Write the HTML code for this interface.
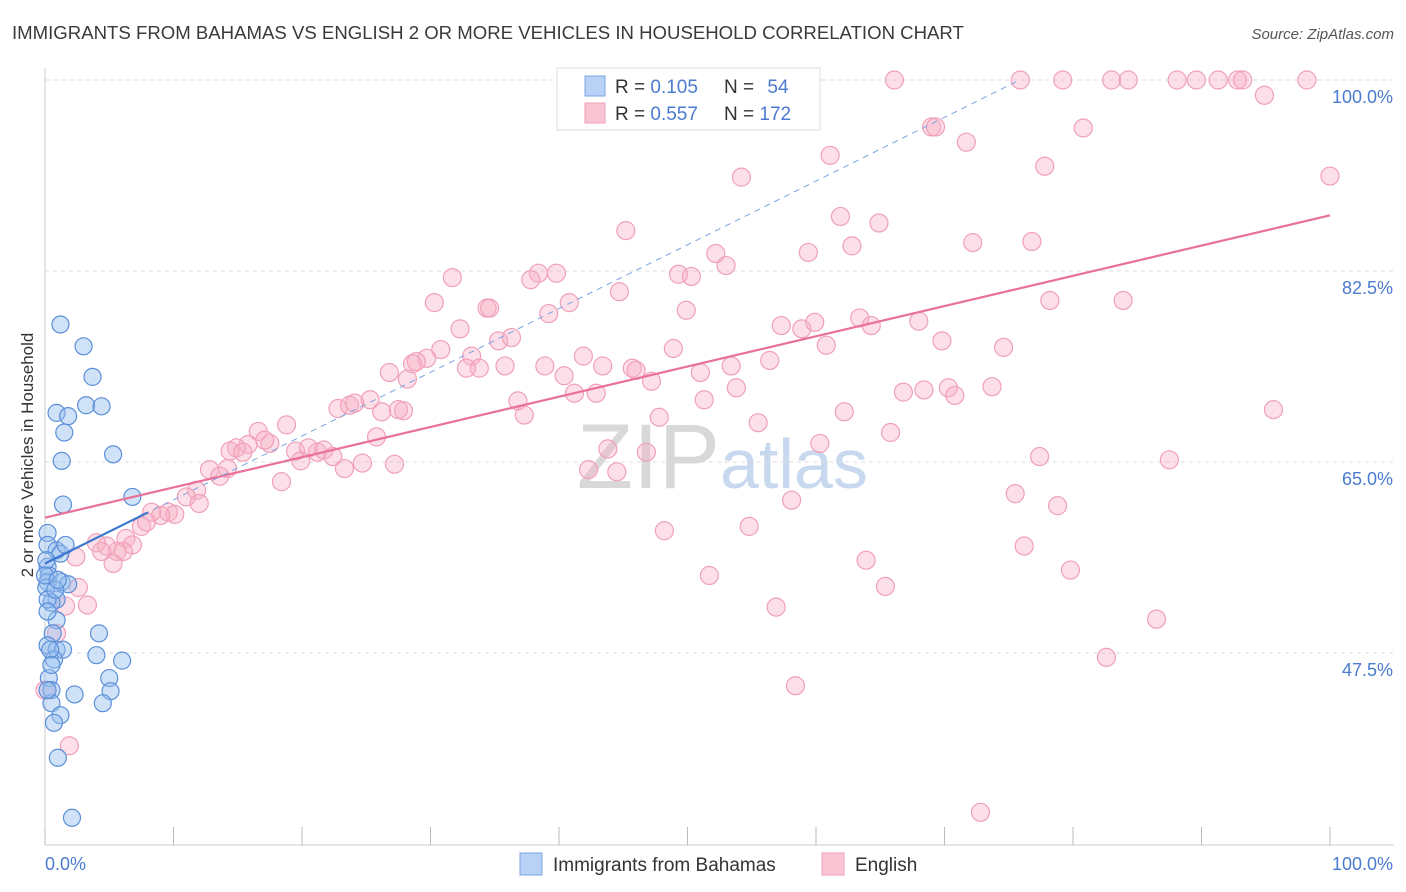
<!DOCTYPE html>
<html><head><meta charset="utf-8">
<style>
body{margin:0;background:#fff;font-family:"Liberation Sans",sans-serif;}
#wrap{position:relative;width:1406px;height:892px;overflow:hidden;}
svg text{font-family:"Liberation Sans",sans-serif;}
</style></head>
<body>
<div id="wrap">
<svg id="chart" width="1406" height="892">
<text x="12" y="39" font-size="18.6" fill="#3a3a3a">IMMIGRANTS FROM BAHAMAS VS ENGLISH 2 OR MORE VEHICLES IN HOUSEHOLD CORRELATION CHART</text>
<text x="1394" y="39" font-size="15" fill="#555" font-style="italic" text-anchor="end">Source: ZipAtlas.com</text>
<text x="720" y="488" font-size="92" fill="#d8d8d8" text-anchor="end" font-family="Liberation Serif">ZIP</text>
<text x="720" y="488" font-size="70" fill="#c8d8ee">atlas</text>
<text transform="translate(33,455) rotate(-90)" font-size="17" fill="#333" text-anchor="middle">2 or more Vehicles in Household</text>
<g id="grid"></g><g id="marks"></g><g id="lines"></g>
<g>
<rect x="557" y="68" width="263" height="62" fill="#fff" stroke="#ddd"/>
<rect x="585" y="76" width="20" height="20" fill="#b8d2f6" stroke="#7aa4e0"/>
<rect x="585" y="103" width="20" height="20" fill="#f9c4d4" stroke="#f0a0b8"/>
<text x="615" y="93" font-size="19" fill="#333">R = <tspan fill="#4a7bd0">0.105</tspan></text>
<text x="724" y="93" font-size="19" fill="#333">N = <tspan fill="#4a7bd0" dx="8">54</tspan></text>
<text x="615" y="120" font-size="19" fill="#333">R = <tspan fill="#4a7bd0">0.557</tspan></text>
<text x="724" y="120" font-size="19" fill="#333">N = <tspan fill="#4a7bd0">172</tspan></text>
</g>
<rect x="520" y="853" width="22" height="22" fill="#b8d2f6" stroke="#7aa4e0"/>
<text x="553" y="871" font-size="19" fill="#333">Immigrants from Bahamas</text>
<rect x="822" y="853" width="22" height="22" fill="#f9c4d4" stroke="#f0a0b8"/>
<text x="855" y="871" font-size="19" fill="#333">English</text>
</svg>
</div>
<script>
const yTicks=[100,82.5,65,47.5];
const yTickLabels=["100.0%","82.5%","65.0%","47.5%"];
const xTicks=[0,10,20,30,40,50,60,70,80,90,100];
const xTickLabels=["0.0%","100.0%"];
const pinkX=[66.1,75.9,79.2,83.0,84.3,88.1,89.6,91.3,92.8,93.2,98.2,94.9,69.0,69.3,80.8,71.7,61.1,77.8,54.2,100,61.9,64.9,45.2,62.8,72.2,76.8,59.4,52.2,53.0,31.7,38.4,39.8,37.8,49.3,50.3,44.7,30.3,34.4,34.6,40.8,39.2,49.9,78.2,83.9,32.3,57.3,58.9,59.9,63.4,64.3,68.0,35.3,36.3,30.8,33.2,29.7,28.6,28.9,26.8,28.2,33.8,32.8,38.9,41.9,43.4,45.7,46.0,40.4,47.2,48.9,51.0,53.4,56.4,60.8,69.8,74.6,53.8,41.2,42.9,35.8,51.3,66.8,68.4,70.3,70.8,73.7,26.2,27.9,27.5,22.8,23.7,25.3,24.1,36.8,37.3,18.8,25.8,16.6,15.8,17.5,17.1,14.9,14.4,15.4,19.5,19.9,21.2,20.5,21.7,22.4,23.3,24.7,27.2,18.4,14.2,12.8,13.6,11.8,11.0,12.0,9.6,10.1,9.0,8.3,7.5,7.9,6.3,6.8,5.6,4.8,6.1,5.3,4.0,4.4,2.4,2.6,3.3,0.9,1.9,1.6,0.0,47.8,55.5,65.8,62.2,60.3,58.1,44.5,46.8,43.8,48.2,54.8,51.7,56.9,63.9,65.4,75.5,77.4,78.8,76.2,79.8,87.5,95.6,86.5,82.6,58.4,72.8,42.3];
const pinkY=[100,100,100,100,100,100,100,100,100,100,100,98.6,95.7,95.7,95.6,94.3,93.1,92.1,91.1,91.2,87.5,86.9,86.2,84.8,85.1,85.2,84.2,84.1,83.0,81.9,82.3,82.3,81.7,82.2,82.0,80.6,79.6,79.1,79.1,79.6,78.6,78.9,79.8,79.8,77.2,77.5,77.2,77.8,78.2,77.5,77.9,76.1,76.4,75.3,74.7,74.5,74.0,74.2,73.2,72.6,73.6,73.6,73.8,74.7,73.8,73.6,73.4,72.9,72.4,75.4,73.2,73.8,74.3,75.7,76.1,75.5,71.8,71.3,71.3,73.8,70.7,71.4,71.6,71.8,71.1,71.9,69.6,69.7,69.8,69.9,70.2,70.7,70.4,70.6,69.3,68.4,67.3,67.8,66.6,66.7,67.0,66.3,66.0,65.9,66.0,65.1,65.9,66.3,66.1,65.5,64.4,64.9,64.8,63.2,64.4,64.3,63.7,62.4,61.8,61.2,60.4,60.2,60.1,60.4,59.1,59.5,58.0,57.4,56.8,57.3,56.8,55.7,57.6,56.8,56.3,53.5,51.9,49.3,39.0,51.8,44.1,69.1,68.6,67.7,69.6,66.7,61.5,64.1,65.9,66.2,58.7,59.1,54.6,51.7,56.0,53.6,62.1,65.5,61.0,57.3,55.1,65.2,69.8,50.6,47.1,44.5,32.9,64.3];
const blueX=[1.2,3.0,3.7,3.2,4.4,0.9,1.8,1.5,1.3,5.3,6.8,1.4,0.2,0.2,0.9,1.2,0.2,0.3,0.2,1.3,1.8,0.1,0.9,0.5,0.2,0.9,0.6,4.2,0.2,0.9,1.4,0.7,4.0,6.0,0.3,5.0,0.5,2.3,5.1,0.5,4.5,1.2,0.7,1.0,2.1,0.2,0.4,0.1,1.6,0.8,0.2,0.5,0.0,1.0];
const blueY=[77.6,75.6,72.8,70.2,70.1,69.5,69.2,67.7,65.1,65.7,61.8,61.1,58.5,57.4,56.9,56.6,55.4,54.6,54.0,54.0,53.8,53.5,52.4,52.1,52.4,50.5,49.3,49.3,48.2,47.8,47.8,46.9,47.3,46.8,45.2,45.2,44.1,43.7,44.0,42.9,42.9,41.8,41.1,37.9,32.4,51.3,47.8,56.0,57.4,53.3,44.1,46.4,54.6,54.2];
const pinkTrend=[59.9,87.6];
const blueTrend=[55.7,0.584];

const X0=45,X1=1330,Y100=80,PXPER=10.914;
const xs=v=>X0+(X1-X0)*v/100;
const ys=v=>Y100+(100-v)*PXPER;
const NS="http://www.w3.org/2000/svg";
function mk(tag,attrs,parent){const e=document.createElementNS(NS,tag);for(const k in attrs)e.setAttribute(k,attrs[k]);parent.appendChild(e);return e;}
const grid=document.getElementById('grid'),marks=document.getElementById('marks'),lines=document.getElementById('lines');
yTicks.forEach((t,i)=>{
 const l=mk('line',{x1:X0,x2:1394,y1:ys(t),y2:ys(t),stroke:'#ddd','stroke-dasharray':'4,4'},grid);
 
 
 const tx=mk('text',{x:1393,y:ys(t)+23,'font-size':18,fill:'#4a7bd0','text-anchor':'end'},grid);
 tx.textContent=yTickLabels[i];
 
 
});
const ax=mk('line',{x1:X0,x2:1394,y1:845,y2:845,stroke:'#ccc'},grid);


const ay=mk('line',{x1:X0,x2:X0,y1:68,y2:845,stroke:'#ccc'},grid);


xTicks.forEach(t=>{
 const l=mk('line',{x1:xs(t),x2:xs(t),y1:827,y2:845,stroke:'#bbb'},grid);
 
 
});
const xl0=mk('text',{x:45,y:870,'font-size':18,fill:'#4a7bd0'},grid);xl0.textContent=xTickLabels[0];


const xl1=mk('text',{x:1393,y:870,'font-size':18,fill:'#4a7bd0','text-anchor':'end'},grid);xl1.textContent=xTickLabels[1];


pinkX.forEach((x,i)=>{
 const c=mk('circle',{cx:xs(x),cy:ys(pinkY[i]),r:9,fill:'rgba(248,175,198,0.4)',stroke:'#f0a0b8','stroke-width':1.2},marks);
 
 
});
blueX.forEach((x,i)=>{
 const c=mk('circle',{cx:xs(x),cy:ys(blueY[i]),r:8.5,fill:'rgba(150,190,240,0.45)',stroke:'#5b8fd8','stroke-width':1.2},marks);
 
 
});
const pl=mk('line',{x1:xs(0),y1:ys(pinkTrend[0]),x2:xs(100),y2:ys(pinkTrend[1]),stroke:'#e8709a','stroke-width':2.2},lines);


const bEnd=(100-blueTrend[0])/blueTrend[1];
const bd=mk('line',{x1:xs(0),y1:ys(blueTrend[0]),x2:xs(bEnd),y2:ys(100),stroke:'#7aa4e0','stroke-width':1,'stroke-dasharray':'6,5'},lines);


const bs=mk('line',{x1:xs(0),y1:ys(blueTrend[0]),x2:xs(8),y2:ys(blueTrend[0]+8*blueTrend[1]),stroke:'#3b78d0','stroke-width':2.2},lines);


</script>
</body></html>
